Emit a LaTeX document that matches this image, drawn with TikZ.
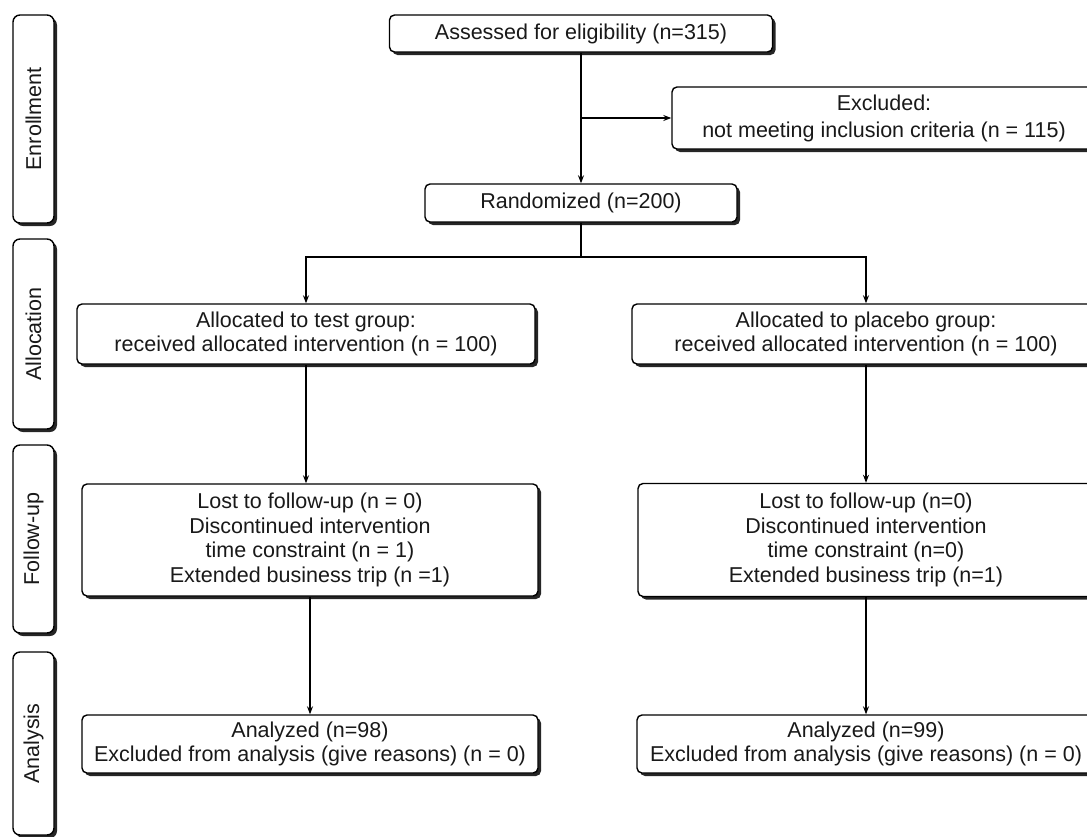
\documentclass[tikz,border=0pt]{standalone}
\usepackage{fontspec}
\setmainfont{Liberation Sans}
\usetikzlibrary{shadows,arrows.meta}
\begin{document}
\begin{tikzpicture}[x=1pt,y=-1pt,
  box/.style={draw, line width=1.4pt, rounded corners=5pt, fill=white, align=center,
    inner sep=0pt, font=\fontsize{21.5}{24.5}\selectfont, text=black!90,
    drop shadow={shadow xshift=3pt, shadow yshift=-3pt, opacity=0.85, fill=black}},
  sidebox/.style={box, rounded corners=7pt, minimum width=41pt},
  conn/.style={line width=1.2pt},
  arr/.style={conn, -{Stealth[length=8pt,width=6pt]}}]
\clip (0,0) rectangle (1087,836);
\fill[white] (0,0) rectangle (1087,836);

% side labels
\node[sidebox, minimum height=208pt] (s1) at (33.5,119) {\rotatebox{90}{Enrollment}};
\node[sidebox, minimum height=190pt] (s2) at (33.5,334) {\rotatebox{90}{Allocation}};
\node[sidebox, minimum height=188pt] (s3) at (33.5,539) {\rotatebox{90}{Follow-up}};
\node[sidebox, minimum height=183pt] (s4) at (33.5,743.5) {\rotatebox{90}{Analysis}};

% main boxes
\node[box, minimum width=383pt, minimum height=37pt] (assess) at (581,33.5) {Assessed for eligibility (n=315)};
\node[box, minimum width=424pt, minimum height=62pt, font=\fontsize{21.5}{27}\selectfont] (excl) at (884,118) {Excluded:\\not meeting inclusion criteria (n = 115)};
\node[box, minimum width=312pt, minimum height=38pt] (rand) at (581,203) {Randomized (n=200)};

\node[box, minimum width=458pt, minimum height=60pt] (allocL) at (306,334) {Allocated to test group:\\received allocated intervention (n = 100)};
\node[box, minimum width=468pt, minimum height=60pt] (allocR) at (866,334) {Allocated to placebo group:\\received allocated intervention (n = 100)};

\node[box, minimum width=456pt, minimum height=112pt] (fuL) at (310,540) {Lost to follow-up (n = 0)\\Discontinued intervention\\time constraint (n = 1)\\Extended business trip (n =1)};
\node[box, minimum width=456pt, minimum height=113pt] (fuR) at (866,540) {Lost to follow-up (n=0)\\Discontinued intervention\\time constraint (n=0)\\Extended business trip (n=1)};

\node[box, minimum width=456pt, minimum height=58pt] (anL) at (310,744) {Analyzed (n=98)\\Excluded from analysis (give reasons) (n = 0)};
\node[box, minimum width=458pt, minimum height=58pt] (anR) at (866,744) {Analyzed (n=99)\\Excluded from analysis (give reasons) (n = 0)};

% connectors
\draw[arr] (assess.south) -- (rand.north);
\coordinate (br) at (581,118);
\draw[arr] (br) -- (excl.west);
\coordinate (split) at (581,257);
\draw[conn] (rand.south) -- (split);
\draw[arr] (split) -| (allocL.north);
\draw[arr] (split) -| (allocR.north);
\draw[arr] (allocL.south) -- (allocL.south |- fuL.north);
\draw[arr] (allocR.south) -- (allocR.south |- fuR.north);
\draw[arr] (fuL.south) -- (fuL.south |- anL.north);
\draw[arr] (fuR.south) -- (fuR.south |- anR.north);
\end{tikzpicture}
\end{document}
